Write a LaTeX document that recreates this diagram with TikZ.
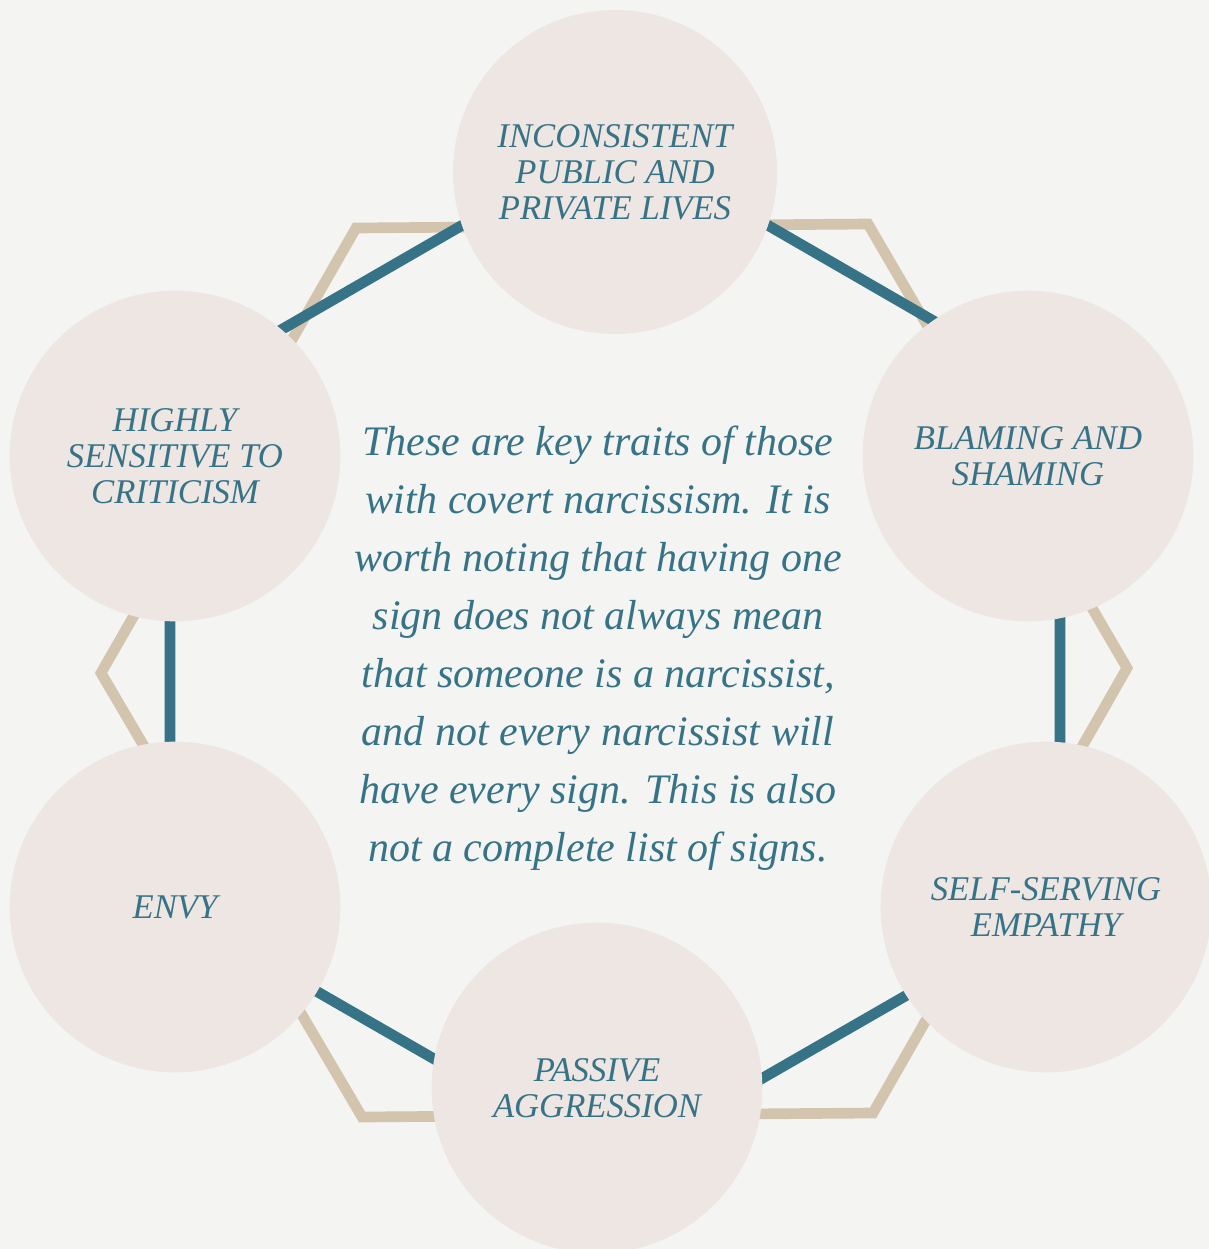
\documentclass[tikz,border=0pt]{standalone}
\usepackage{fontspec}
\setmainfont{Liberation Serif}
\usetikzlibrary{positioning}
\definecolor{bgcol}{HTML}{F4F4F2}
\definecolor{disc}{HTML}{EDE6E2}
\definecolor{petrol}{HTML}{377387}
\definecolor{sand}{HTML}{D3C4AE}

\begin{document}
\begin{tikzpicture}[x=0.75pt, y=-0.75pt,
   trait/.style={circle, fill=disc, minimum size=248pt, inner sep=0pt, align=center,
      text=petrol, font=\fontsize{26}{27}\selectfont\itshape},
   ring/.style={line width=8pt, line join=miter}]
   \fill[bgcol] (0,0) rectangle (1209,1249);
   \useasboundingbox (0,0) rectangle (1209,1249);
   % outer frame
   \coordinate (s1) at (356,228);
   \coordinate (s2) at (868,224);
   \coordinate (s3) at (1127,668);
   \coordinate (s4) at (873,1113);
   \coordinate (s5) at (362,1117);
   \coordinate (s6) at (101,673);
   \draw[ring, sand] (s1) -- (s2) -- (s3) -- (s4) -- (s5) -- (s6) -- cycle;
   % inner ring
   \coordinate (h1) at (615,137);
   \coordinate (h2) at (1060,394);
   \coordinate (h3) at (1060,907);
   \coordinate (h4) at (615,1163);
   \coordinate (h5) at (170,907);
   \coordinate (h6) at (170,394);
   \draw[ring, petrol] (h1) -- (h2) -- (h3) -- (h4) -- (h5) -- (h6) -- cycle;
   \begin{scope}[every node/.style={trait}]
    \node (t1) at (615,172) [minimum size=243pt] {INCONSISTENT\\PUBLIC AND\\PRIVATE LIVES};
    \node (t2) at (1028,456) {BLAMING AND\\SHAMING};
    \node (t3) at (1046,907) {SELF-SERVING\\EMPATHY};
    \node (t4) at (597,1088) {PASSIVE\\AGGRESSION};
    \node (t5) at (175,907) {ENVY};
    \node (t6) at (175,456) {HIGHLY\\SENSITIVE TO\\CRITICISM};
   \end{scope}
   \node (note) at (598,648) [align=center, text=petrol,
      font=\fontsize{31.5}{43.5}\selectfont\itshape]
      {These are key traits of those\\with covert narcissism. It is\\worth noting that having one\\sign does not always mean\\that someone is a narcissist,\\and not every narcissist will\\have every sign. This is also\\not a complete list of signs.};
\end{tikzpicture}
\end{document}
